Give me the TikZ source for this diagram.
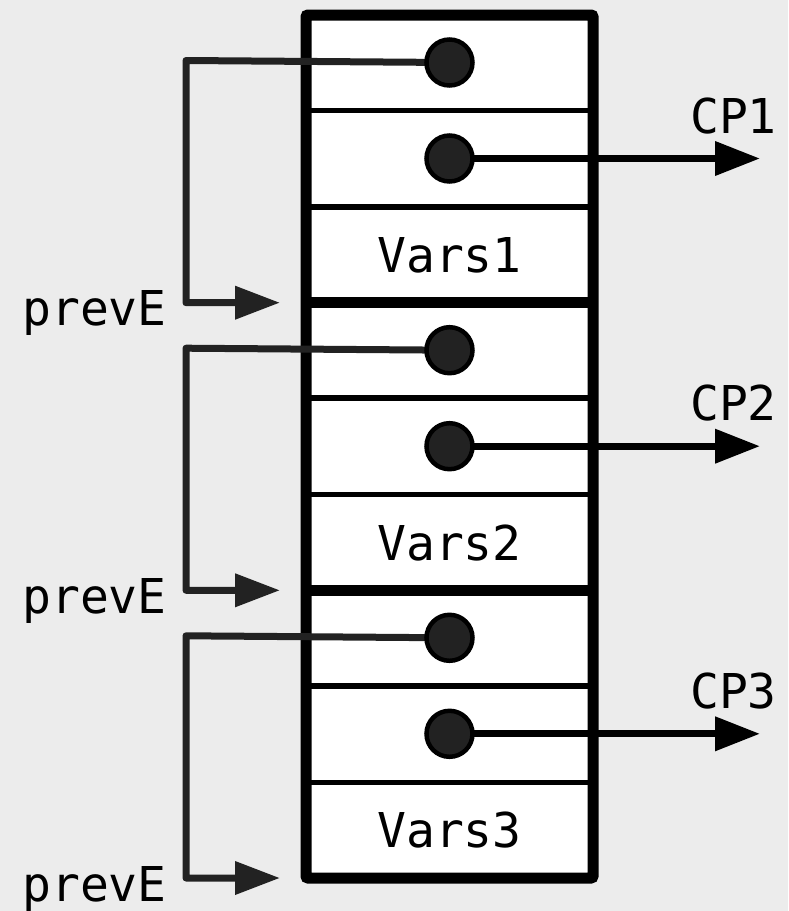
\documentclass[tikz,border=0pt]{standalone}
\usepackage{fontspec}
\newfontfamily\monof{DejaVu Sans Mono}
\usetikzlibrary{arrows.meta}
\definecolor{bg}{RGB}{236,236,236}
\definecolor{dk}{RGB}{34,34,34}
\tikzset{
  outer/.style={line width=11pt, draw=black},
  thin/.style={line width=5.5pt, draw=black},
  ptr/.style={circle, minimum size=46pt, inner sep=0pt, fill=dk, draw=black, line width=4.5pt},
  lbl/.style={font=\monof\fontsize{48}{56}\selectfont, inner sep=0pt, text=black},
  backlink/.style={line width=7pt, draw=dk, line join=round, -{Triangle[length=45pt,width=32pt]}},
  cplink/.style={line width=7pt, draw=black, -{Triangle[length=45pt,width=33pt]}},
}
\begin{document}
\begin{tikzpicture}[x=1pt,y=-1pt]
\fill[bg] (0,0) rectangle (788,911);
\useasboundingbox (0,0) rectangle (788,911);
% box
\fill[white] (306,15) rectangle (593,878);
\foreach \k/\T in {1/15,2/302.7,3/590.3}{
  \draw[thin] (306,\T+95.5) -- (593,\T+95.5);
  \draw[thin] (306,\T+192) -- (593,\T+192);
}
\draw[outer] (306,302.7) -- (593,302.7);
\draw[outer] (306,590.3) -- (593,590.3);
\draw[outer, rounded corners=2pt] (306,15) rectangle (593,878);
% frames
\foreach \k/\T/\N in {1/15/302.7,2/302.7/590.3,3/590.3/878}{
  \node[lbl] (vars\k) at (449.5,\T+240) {Vars\k};
  \coordinate (pc\k) at (449.5,\T+47.5);
  \coordinate (cc\k) at (449.5,\T+143.5);
  \coordinate (corner\k) at (186,\T+45.5);
  \coordinate (prevtip\k) at (280,\N);
  \coordinate (cptip\k) at (760,\T+143.5);
  \draw[backlink] (pc\k) -- (corner\k) |- (prevtip\k);
  \draw[cplink] (cc\k) -- (cptip\k);
  \node[ptr] (prev\k) at (pc\k) {};
  \node[ptr] (cp\k) at (cc\k) {};
  \node[lbl, anchor=base east] (prevE\k) at (167,\N+23) {prevE};
  \node[lbl, anchor=base west] (cpl\k) at (690,\T+118) {CP\k};
}
\end{tikzpicture}
\end{document}
